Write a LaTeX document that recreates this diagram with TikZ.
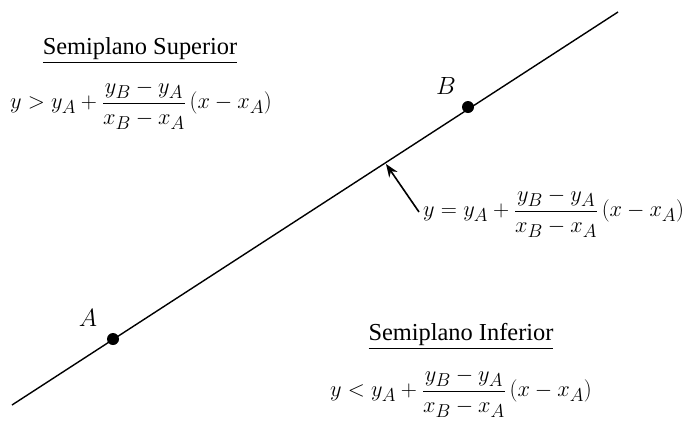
\documentclass[tikz,border=0pt]{standalone}
\usepackage{amsmath,graphicx}
\usepackage{fontspec}
\setmainfont{Liberation Serif}
\usetikzlibrary{arrows.meta}
\newcommand{\recta}[1]{\scalebox{0.9}{$y#1y_A+\dfrac{y_B-y_A}{x_B-x_A}\,(x-x_A)$}}

\begin{document}
\begin{tikzpicture}[x=1pt,y=-1pt,
  t/.style={inner sep=0pt,font=\fontsize{24.4}{28}\selectfont},
  f/.style={inner sep=0pt,font=\fontsize{24.88}{29}\selectfont},
  pt/.style={circle,fill=black,inner sep=0pt,minimum size=12pt},
  >={Stealth[length=13pt,width=10pt]}]
\useasboundingbox (0,0) rectangle (688,421);
\coordinate (p0) at (12,405);
\coordinate (p1) at (618,12);
\draw[line width=1.4pt] (p0)--(p1);
\node[pt] (A) at (113,339) {};
\node[pt] (B) at (468,107) {};
\node[f] (lA) at (88,318) {$A$};
\node[f] (lB) at (446,86) {$B$};
\node[t,anchor=base] (sup) at (140,54) {\underline{Semiplano Superior}};
\node[f] (fsup) at (141,105) {\recta{>}};
\node[f,anchor=west] (feq) at (423,213) {\recta{=}};
\node[t,anchor=base] (inf) at (461,340) {\underline{Semiplano Inferior}};
\node[f] (finf) at (461,393) {\recta{<}};
\coordinate (tip) at (386,164);
\draw[->,line width=1.6pt] (feq.west) ++(-4,-1) -- (tip);
\end{tikzpicture}
\end{document}
